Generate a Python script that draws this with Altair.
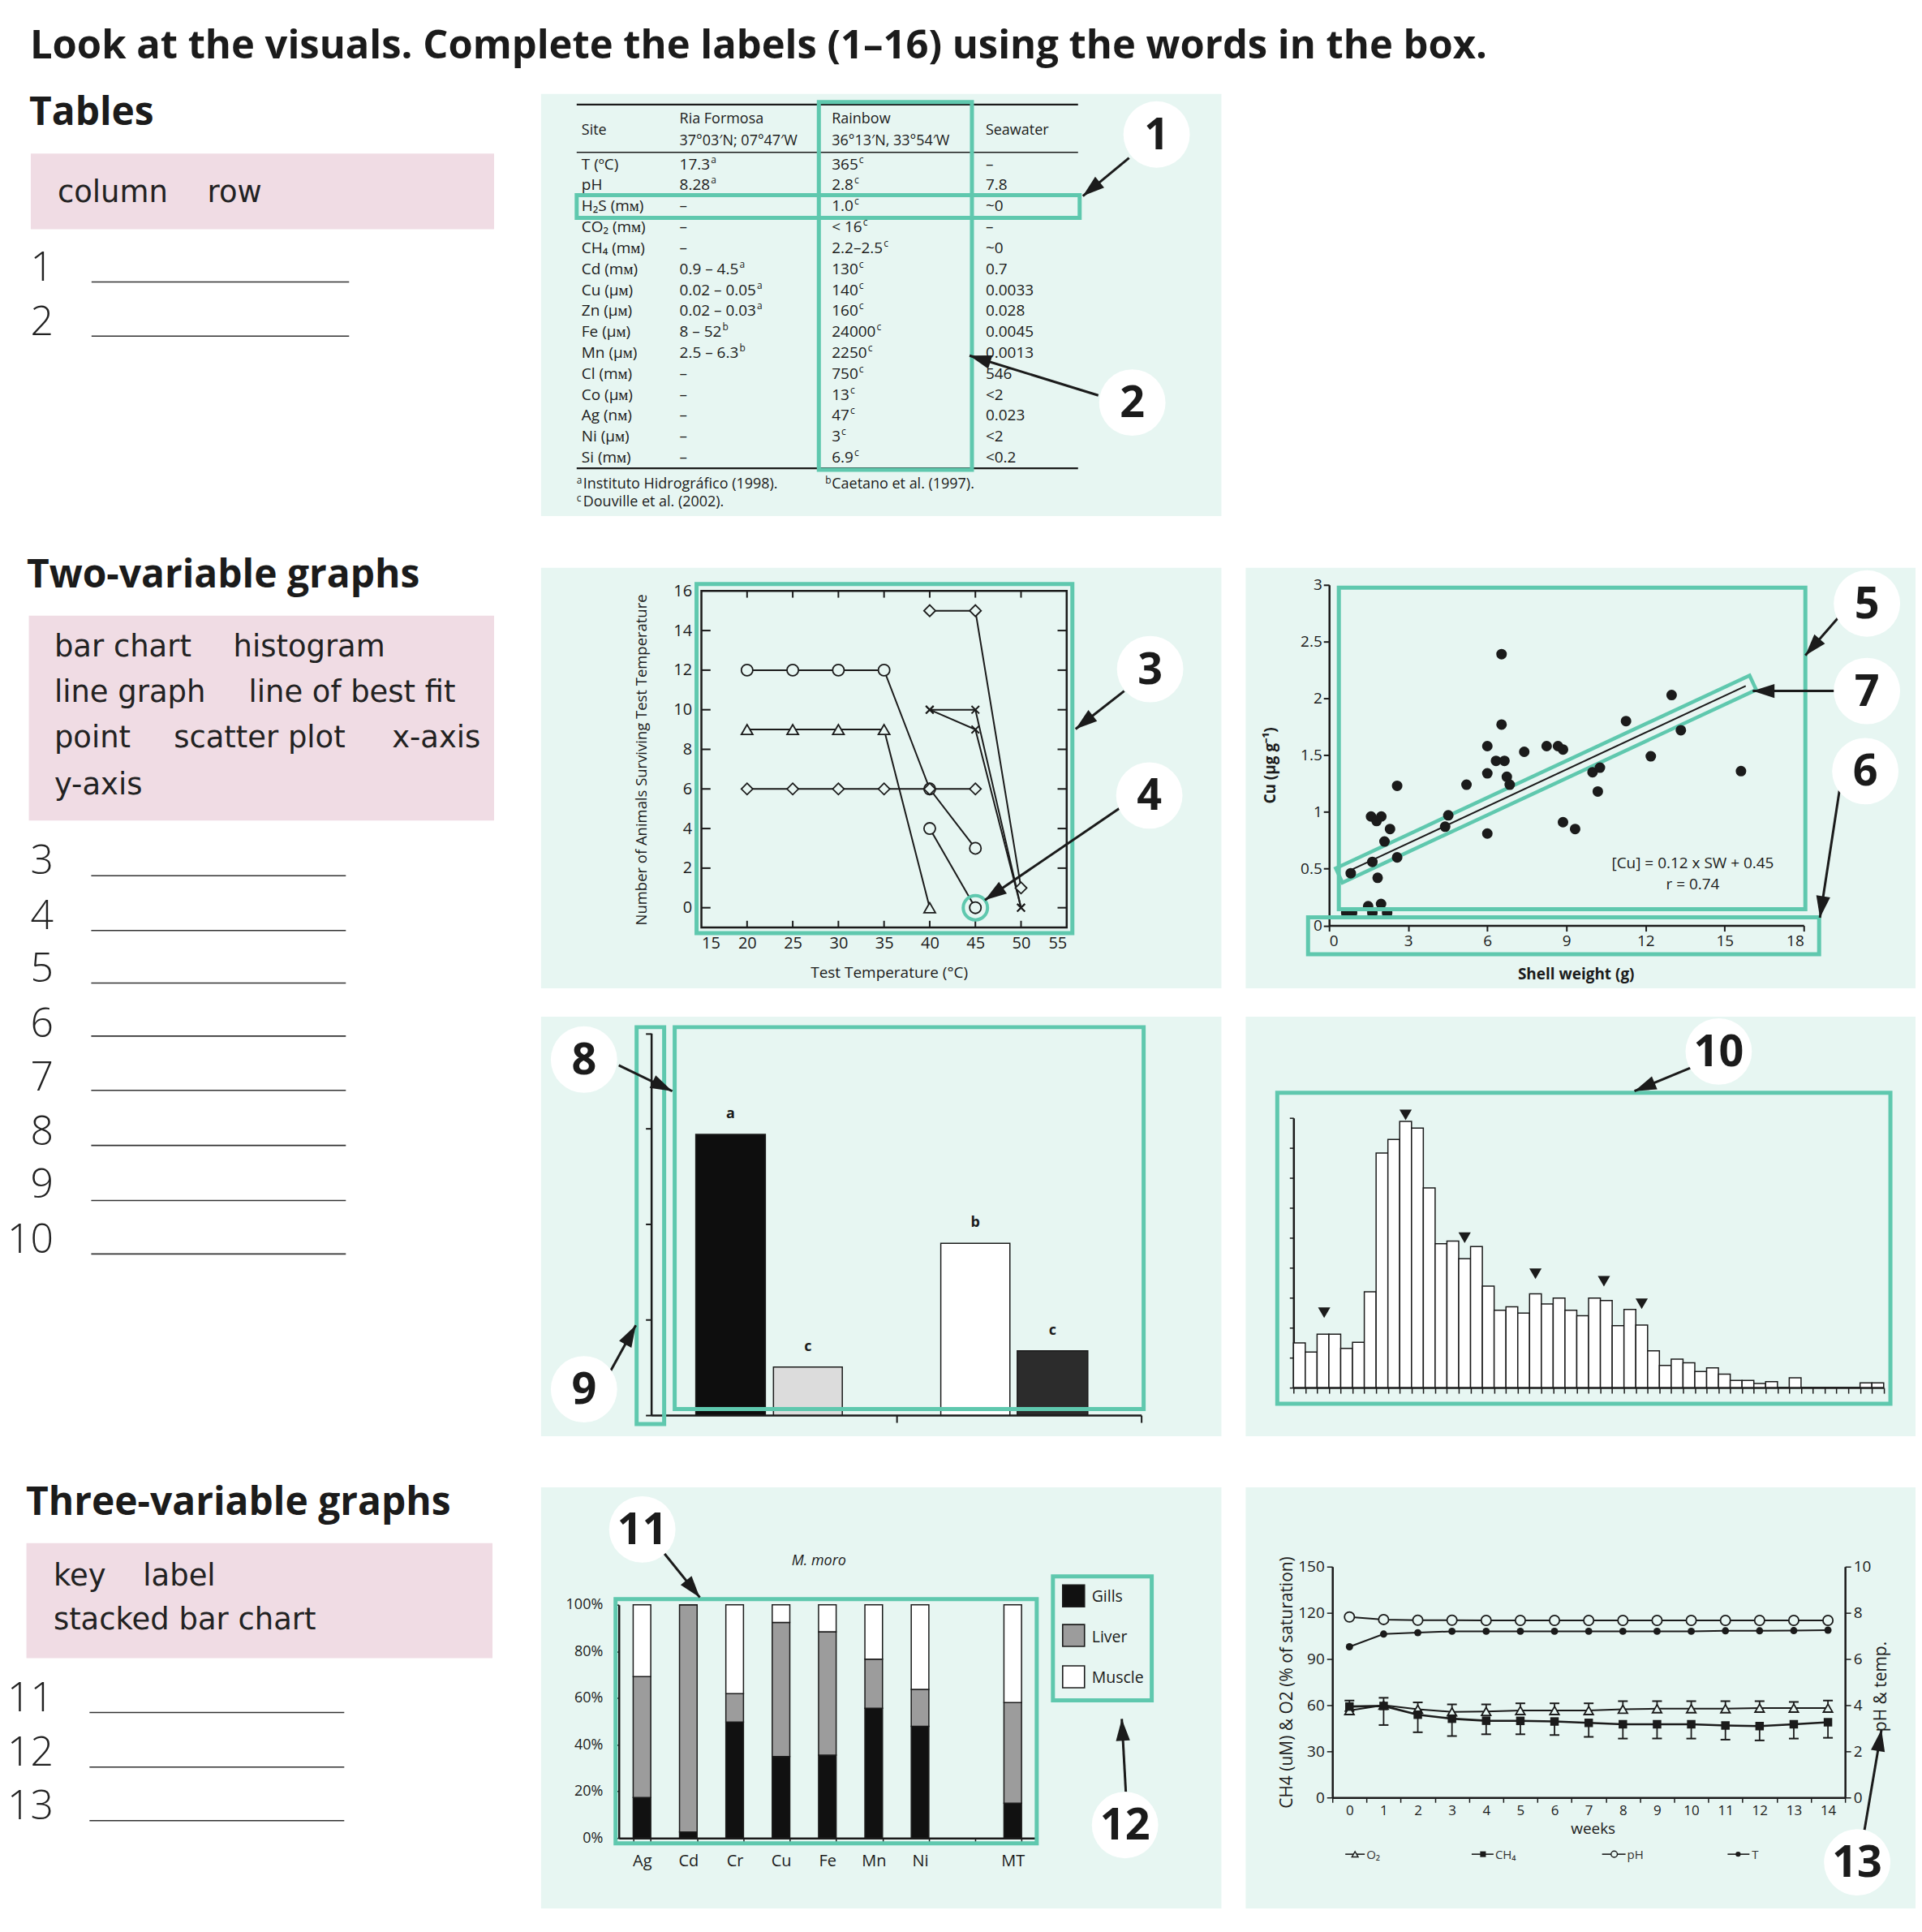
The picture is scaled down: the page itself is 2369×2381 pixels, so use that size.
import math
import altair as alt
import pandas as pd

# ============================ DATA ============================
TITLE = "Look at the visuals. Complete the labels (1–16) using the words in the box."
SECTION_HEADINGS = ["Tables", "Two-variable graphs", "Three-variable graphs"]
BOX_TABLES = ["column", "row"]
BOX_TWO_VAR = ["bar chart", "histogram", "line graph", "line of best fit",
               "point", "scatter plot", "x-axis", "y-axis"]
BOX_THREE_VAR = ["key", "label", "stacked bar chart"]
ANSWER_NUMS = [str(n) for n in range(1, 14)]

# --- table ---
TABLE_HEADER = ["Site", "Ria Formosa", "37°03′N; 07°47′W", "Rainbow", "36°13′N, 33°54′W", "Seawater"]
TABLE_SITE = ["T (ºC)", "pH", "H₂S (mᴍ)", "CO₂ (mᴍ)", "CH₄ (mᴍ)", "Cd (mᴍ)", "Cu (µᴍ)", "Zn (µᴍ)",
              "Fe (µᴍ)", "Mn (µᴍ)", "Cl (mᴍ)", "Co (µᴍ)", "Ag (nᴍ)", "Ni (µᴍ)", "Si (mᴍ)"]
TABLE_RIA = ["17.3", "8.28", "–", "–", "–", "0.9 – 4.5", "0.02 – 0.05", "0.02 – 0.03",
             "8 – 52", "2.5 – 6.3", "–", "–", "–", "–", "–"]
TABLE_RIA_REF = ["a", "a", "", "", "", "a", "a", "a", "b", "b", "", "", "", "", ""]
TABLE_RAINBOW = ["365", "2.8", "1.0", "< 16", "2.2–2.5", "130", "140", "160",
                 "24000", "2250", "750", "13", "47", "3", "6.9"]
TABLE_RAINBOW_REF = ["c"] * 15
TABLE_SEAWATER = ["–", "7.8", "~0", "–", "~0", "0.7", "0.0033", "0.028", "0.0045", "0.0013",
                  "546", "<2", "0.023", "<2", "<0.2"]
TABLE_NOTE_REFS = ["a", "b", "c"]
TABLE_NOTES = ["Instituto Hidrográfico (1998).", "Caetano et al. (1997).", "Douville et al. (2002)."]

# --- line graph ---
LG_SERIES = ["s1", "s2", "s3", "s4", "s5", "s6", "s7"]
LG_MARKER = ["circle", "circle", "triangle-up", "diamond", "diamond", "x", "x"]
LG_TEMP = [[20, 25, 30, 35, 40, 45], [40, 45], [20, 25, 30, 35, 40], [20, 25, 30, 35, 40, 45],
           [40, 45, 50], [40, 45, 50], [40, 45, 50]]
LG_COUNT = [[12, 12, 12, 12, 6, 3], [4, 0], [9, 9, 9, 9, 0], [6, 6, 6, 6, 6, 6],
            [15, 15, 1], [10, 10, 0], [10, 9, 0]]
LG_XTICKS = [15, 20, 25, 30, 35, 40, 45, 50, 55]
LG_YTICKS = [0, 2, 4, 6, 8, 10, 12, 14, 16]
LG_XTITLE = "Test Temperature (°C)"
LG_YTITLE = "Number of Animals Surviving Test Temperature"

# --- scatter plot ---
SC_SHELL = [6.54, 6.54, 6.0, 6.0, 6.0, 6.33, 6.65, 6.74, 6.85, 7.40, 5.21, 8.25, 8.68, 8.87, 8.87,
            9.33, 9.99, 10.27, 10.19, 11.26, 12.2, 12.99, 13.34, 15.62, 4.52, 4.40, 2.58, 2.58,
            1.59, 1.98, 1.80, 2.31, 2.10, 1.64, 1.84, 0.82, 1.48, 1.97, 1.64, 2.20, 0.65, 0.87]
SC_CU = [2.39, 1.77, 1.58, 1.34, 0.81, 1.45, 1.45, 1.31, 1.24, 1.53, 1.24, 1.58, 1.58, 1.55, 0.91,
         0.85, 1.35, 1.39, 1.18, 1.80, 1.49, 2.03, 1.72, 1.36, 0.97, 0.87, 1.23, 0.60,
         0.96, 0.96, 0.92, 0.85, 0.74, 0.56, 0.42, 0.46, 0.17, 0.19, 0.11, 0.11, 0.11, 0.11]
SC_FIT_X = [0.65, 15.8]
SC_FIT_Y = [0.47, 2.11]
SC_XTICKS = [0, 3, 6, 9, 12, 15, 18]
SC_YTICKS = [0, 0.5, 1, 1.5, 2, 2.5, 3]
SC_XTITLE = "Shell weight (g)"
SC_YTITLE = "Cu (µg g⁻¹)"
SC_NOTE = ["[Cu] = 0.12 x SW + 0.45", "r = 0.74"]

# --- bar chart ---
BC_X0 = [0.182, 0.499, 1.182, 1.494]
BC_X1 = [0.466, 0.780, 1.464, 1.782]
BC_VALUE = [2.94, 0.505, 1.80, 0.674]
BC_FILL = ["#0e0e0e", "#dcdcdc", "#ffffff", "#2c2c2c"]
BC_LETTER = ["a", "c", "b", "c"]

# --- histogram ---
HIST_COUNTS = [1.49, 1.19, 1.78, 1.78, 1.31, 1.51, 3.20, 7.83, 8.28, 8.88, 8.66, 6.66, 4.80, 4.89,
               4.30, 4.71, 3.39, 2.58, 2.70, 2.49, 3.13, 2.79, 2.99, 2.58, 2.40, 2.99, 2.91, 2.07,
               2.61, 2.09, 1.23, 0.74, 0.95, 0.83, 0.54, 0.66, 0.45, 0.24, 0.24, 0.14, 0.20, 0.0,
               0.33, 0.0, 0.0, 0.0, 0.0, 0.0, 0.16, 0.16]
HIST_PEAK_X = [2.6, 9.5, 14.5, 20.5, 26.3, 29.5]
HIST_PEAK_Y = [2.5, 9.1, 5.0, 3.8, 3.55, 2.8]

# --- stacked bar chart ---
ST_ELEMENTS = ["Ag", "Cd", "Cr", "Cu", "Fe", "Mn", "Ni", " ", "MT"]
ST_TISSUES = ["Gills", "Liver", "Muscle"]
ST_GILLS = [17.4, 2.6, 49.7, 34.9, 35.5, 55.6, 47.9, None, 14.9]
ST_LIVER = [51.8, 97.4, 12.2, 57.5, 52.9, 21.1, 15.8, None, 43.2]
ST_MUSCLE = [30.8, 0.0, 38.1, 7.6, 11.6, 23.3, 36.3, None, 41.9]
ST_COLORS = ["#111111", "#9c9c9c", "#ffffff"]
ST_YTICKS = [0, 20, 40, 60, 80, 100]
ST_TITLE = "M. moro"

# --- time series ---
TS_WEEKS = list(range(15))
TS_O2 = [56.5, 60.0, 57.4, 55.6, 55.9, 56.5, 56.5, 56.5, 57.4, 57.7, 57.7, 57.7, 58.1, 58.1, 58.1]
TS_O2_ERR = [6.5, 4.8, 4.4, 4.9, 4.6, 4.7, 4.7, 4.7, 5.2, 4.9, 4.9, 4.9, 4.5, 4.0, 4.9]
TS_CH4 = [59.1, 59.5, 53.8, 51.2, 49.9, 49.8, 49.4, 48.5, 47.6, 47.6, 47.6, 46.8, 46.4, 47.6, 48.9]
TS_CH4_ERR = [3.0, 12.4, 11.4, 11.2, 8.8, 8.7, 8.8, 9.1, 9.3, 9.3, 9.3, 9.2, 9.3, 9.3, 10.1]
TS_PH = [7.82, 7.71, 7.68, 7.68, 7.67, 7.67, 7.67, 7.67, 7.67, 7.67, 7.67, 7.67, 7.67, 7.67, 7.67]
TS_T = [6.53, 7.08, 7.14, 7.20, 7.20, 7.20, 7.20, 7.20, 7.20, 7.20, 7.20, 7.22, 7.22, 7.23, 7.25]
TS_LEFT_TICKS = [0, 30, 60, 90, 120, 150]
TS_RIGHT_TICKS = [0, 2, 4, 6, 8, 10]
TS_LEFT_TITLE = "CH4 (uM) & O2 (% of saturation)"
TS_RIGHT_TITLE = "pH & temp."
TS_XTITLE = "weeks"
TS_LEGEND = ["O₂", "CH₄", "pH", "T"]

# ============================ STYLE ============================
FONT = "Open Sans"
BOXFONT = "DejaVu Sans"
MINT = "#e7f6f2"
PINK = "#f0dce4"
TEAL = "#5fc8ae"
INK = "#1b1b1b"
HEAD_PATH = "M0,0L0.55,1.7L-0.55,1.7Z"
X_PATH = "M-1,-1L1,1M-1,1L1,-1"
TABLE_FS = 19
SUP_FS = 12
# approximate Open Sans advance widths (em) for the characters used in the numeric cells
CHAR_EM = {".": 0.266, " ": 0.26, "–": 0.5, "<": 0.572, "~": 0.572}


# ============================ HELPERS ============================
def text_width(s, fs):
    return sum(CHAR_EM.get(ch, 0.572) for ch in s) * fs


def PX(field):
    return alt.X(field + ":Q", scale=None, axis=None)


def PY(field):
    return alt.Y(field + ":Q", scale=None, axis=None)


def texts(items, ox, oy, **kw):
    df = pd.DataFrame({"x": [p[0] - ox for p in items], "y": [p[1] - oy for p in items],
                       "t": [p[2] for p in items]})
    style = dict(font=FONT, color=INK, align="left", baseline="middle", fontSize=18)
    style.update(kw)
    return alt.Chart(df).mark_text(**style).encode(x=PX("x"), y=PY("y"), text="t:N")


def segs(items, ox, oy, color=INK, width=2.0):
    df = pd.DataFrame({"x": [s[0] - ox for s in items], "y": [s[1] - oy for s in items],
                       "x2": [s[2] - ox for s in items], "y2": [s[3] - oy for s in items]})
    return alt.Chart(df).mark_rule(color=color, strokeWidth=width).encode(
        x=PX("x"), x2="x2", y=PY("y"), y2="y2")


def boxes(items, ox, oy, **kw):
    df = pd.DataFrame({"x": [b[0] - ox for b in items], "x2": [b[1] - ox for b in items],
                       "y": [b[2] - oy for b in items], "y2": [b[3] - oy for b in items]})
    return alt.Chart(df).mark_rect(**kw).encode(x=PX("x"), x2="x2", y=PY("y"), y2="y2")


def frames(items, ox, oy):
    return boxes(items, ox, oy, fill="transparent", stroke=TEAL, strokeWidth=5)


def arrows(items, ox, oy):
    rows = []
    for (x1, y1, x2, y2) in items:
        ang = math.degrees(math.atan2(x2 - x1, -(y2 - y1))) % 360
        rows.append({"x": x1 - ox, "y": y1 - oy, "x2": x2 - ox, "y2": y2 - oy, "a": ang})
    df = pd.DataFrame(rows)
    shaft = alt.Chart(df).mark_rule(color=INK, strokeWidth=3).encode(
        x=PX("x"), x2="x2", y=PY("y"), y2="y2")
    head = alt.Chart(df).mark_point(shape=HEAD_PATH, filled=True, color=INK, size=1000,
                                    opacity=1, strokeWidth=0).encode(
        x=PX("x2"), y=PY("y2"), angle=alt.Angle("a:Q", scale=None))
    return [shaft, head]


def callouts(items, ox, oy):
    df = pd.DataFrame({"x": [p[0] - ox for p in items], "y": [p[1] - oy for p in items],
                       "t": [p[2] for p in items]})
    circ = alt.Chart(df).mark_circle(size=6724, color="white", opacity=1).encode(x=PX("x"), y=PY("y"))
    num = alt.Chart(df).mark_text(font=FONT, fontSize=54, fontWeight="bold", color=INK,
                                  align="center", baseline="middle", dy=2).encode(
        x=PX("x"), y=PY("y"), text="t:N")
    return [circ, num]


def panel(layers, W, H):
    return alt.layer(*layers).properties(
        width=W, height=H, view=alt.ViewBackground(fill=MINT, strokeWidth=0)
    ).resolve_scale(x="independent", y="independent")


def spacer(W, H):
    return alt.Chart(pd.DataFrame({"v": [0]})).mark_point(opacity=0, size=1).encode(
        x=alt.value(5), y=alt.value(5)).properties(width=W, height=H)


def lin(domain, rng):
    return alt.Scale(domain=domain, range=rng, nice=False, zero=False)


# ============================ TITLE ROW ============================
title_view = alt.layer(
    texts([(33, 70.5, TITLE)], 8, 8, fontSize=49, fontWeight="bold", baseline="alphabetic")
).properties(width=1950, height=106)

# ============================ LEFT COLUMN ============================
LX, LY = 8, 114
left_layers = [
    boxes([(34, 606, 187.5, 281), (31.6, 606, 758, 1011), (28.6, 604, 1903, 2045)], LX, LY, fill=PINK),
    texts([(32, 152, SECTION_HEADINGS[0]), (29, 723, SECTION_HEADINGS[1]), (28, 1868, SECTION_HEADINGS[2])],
          LX, LY, fontSize=48, fontWeight="bold", baseline="alphabetic"),
    texts([(67, 236.6, BOX_TABLES[0]), (252, 236.6, BOX_TABLES[1]),
           (63, 797, BOX_TWO_VAR[0]), (284, 797, BOX_TWO_VAR[1]),
           (63, 853.6, BOX_TWO_VAR[2]), (303, 853.6, BOX_TWO_VAR[3]),
           (63, 910, BOX_TWO_VAR[4]), (210.5, 910, BOX_TWO_VAR[5]), (480, 910, BOX_TWO_VAR[6]),
           (63, 967.5, BOX_TWO_VAR[7]),
           (62, 1944, BOX_THREE_VAR[0]), (172.6, 1944, BOX_THREE_VAR[1]),
           (62, 1998, BOX_THREE_VAR[2])],
          LX, LY, font=BOXFONT, fontSize=37, color="#222222"),
]
num_y = [330, 397, 1062, 1130, 1195, 1263, 1329, 1396, 1461, 1530, 2096, 2163, 2229]
left_layers.append(texts([(62, y, n) for y, n in zip(num_y, ANSWER_NUMS)], LX, LY,
                         fontSize=50, fontWeight=300, align="right", color="#222222"))
line_y = [346, 413, 1079, 1146.6, 1211.6, 1277, 1344, 1412, 1480, 1546, 2112, 2179.5, 2245.6]
line_x = [(109, 427)] * 2 + [(108.6, 423)] * 8 + [(106.5, 421)] * 3
left_layers.append(segs([(a, y, b, y) for (a, b), y in zip(line_x, line_y)], LX, LY,
                        color="#333333", width=1.6))
left_col = alt.layer(*left_layers).properties(width=626, height=2259)

# ============================ TABLE PANEL ============================
OX, OY = 664, 114
COLX = {"site": 714, "ria": 835, "rain": 1023, "sea": 1213}
tdf = pd.DataFrame({"i": list(range(len(TABLE_SITE))), "site": TABLE_SITE, "ria": TABLE_RIA,
                    "rain": TABLE_RAINBOW, "sea": TABLE_SEAWATER,
                    "ria_ref": TABLE_RIA_REF, "rain_ref": TABLE_RAINBOW_REF})
tdf["ria_sx"] = [COLX["ria"] - OX + text_width(s, TABLE_FS) + 1 for s in TABLE_RIA]
tdf["rain_sx"] = [COLX["rain"] - OX + text_width(s, TABLE_FS) + 1 for s in TABLE_RAINBOW]
row_scale = lin([0, len(TABLE_SITE) - 1], [201 - OY, 563 - OY])
table_layers = [
    segs([(708, 127, 1327, 127), (708, 576, 1327, 576)], OX, OY, width=2.2),
    segs([(708, 186, 1327, 186)], OX, OY, width=1.6),
    texts([(714, 159, TABLE_HEADER[0]), (835, 145.5, TABLE_HEADER[1]), (835, 172.5, TABLE_HEADER[2]),
           (1023, 145.5, TABLE_HEADER[3]), (1023, 172.5, TABLE_HEADER[4]), (1213, 159, TABLE_HEADER[5])],
          OX, OY, fontSize=18),
]
for col in ["site", "ria", "rain", "sea"]:
    table_layers.append(alt.Chart(tdf).mark_text(font=FONT, fontSize=TABLE_FS, color=INK, align="left",
                                                 baseline="middle").encode(
        x=alt.value(COLX[col] - OX), y=alt.Y("i:Q", scale=row_scale, axis=None), text=col + ":N"))
for col in ["ria", "rain"]:
    table_layers.append(alt.Chart(tdf).mark_text(font=FONT, fontSize=SUP_FS, color=INK, align="left",
                                                 baseline="middle", dy=-6).encode(
        x=alt.X(col + "_sx:Q", scale=None, axis=None), y=alt.Y("i:Q", scale=row_scale, axis=None),
        text=col + "_ref:N"))
table_layers += [
    texts([(708, 591, TABLE_NOTE_REFS[0]), (1015, 591, TABLE_NOTE_REFS[1]), (708, 613, TABLE_NOTE_REFS[2])],
          OX, OY, fontSize=SUP_FS),
    texts([(716, 596, TABLE_NOTES[0]), (1023, 596, TABLE_NOTES[1]), (716, 618, TABLE_NOTES[2])],
          OX, OY, fontSize=18),
    frames([(708, 1329, 239, 267), (1007, 1196, 124, 578)], OX, OY),
]
table_layers += arrows([(1390, 193, 1333, 240), (1352, 486, 1193, 437)], OX, OY)
table_layers += callouts([(1424, 164, "1"), (1394, 495, "2")], OX, OY)
table_panel = panel(table_layers, 840, 521)

# ============================ LINE GRAPH PANEL ============================
OX, OY = 664, 699
lg_xs = lin([15, 55], [862 - OX, 1313 - OX])
lg_ys = lin([-1, 16], [1143 - OY, 727.5 - OY])
lg_rows = []
for sid, mk, xs_, ys_ in zip(LG_SERIES, LG_MARKER, LG_TEMP, LG_COUNT):
    for a, b in zip(xs_, ys_):
        lg_rows.append({"s": sid, "m": mk, "t": a, "n": b})
lg_df = pd.DataFrame(lg_rows)
frame_df = pd.DataFrame({"a": [15], "b": [55], "c": [-1], "d": [16]})
tick_rows = []
for v in LG_XTICKS[1:-1]:
    tick_rows.append({"x": v, "x2": v, "y": -1, "y2": -1 + 0.34})
    tick_rows.append({"x": v, "x2": v, "y": 16, "y2": 16 - 0.34})
for v in LG_YTICKS[:-1]:
    tick_rows.append({"x": 15, "x2": 15 + 1.0, "y": v, "y2": v})
    tick_rows.append({"x": 55, "x2": 55 - 1.0, "y": v, "y2": v})
tick_df = pd.DataFrame(tick_rows)

lg_layers = [
    alt.Chart(frame_df).mark_rect(fill="transparent", stroke=INK, strokeWidth=2.5).encode(
        x=alt.X("a:Q", scale=lg_xs, axis=None), x2="b",
        y=alt.Y("c:Q", scale=lg_ys, axis=None), y2="d"),
    alt.Chart(tick_df).mark_rule(color=INK, strokeWidth=2).encode(
        x=alt.X("x:Q", scale=lg_xs, axis=None), x2="x2",
        y=alt.Y("y:Q", scale=lg_ys, axis=None), y2="y2"),
    alt.Chart(lg_df).mark_line(color=INK, strokeWidth=2).encode(
        x=alt.X("t:Q", scale=lg_xs, axis=alt.Axis(values=LG_XTICKS, domain=False, ticks=False, orient="bottom",
                                                  labelPadding=9, labelFontSize=20, offset=-75,
                                                  title=None, grid=False)),
        y=alt.Y("n:Q", scale=lg_ys, axis=alt.Axis(values=LG_YTICKS, domain=False, ticks=False, orient="left",
                                                  labelPadding=12, labelFontSize=20, offset=-198,
                                                  title=None, grid=False)),
        detail="s:N"),
    alt.Chart(lg_df[lg_df["m"] != "x"]).mark_point(filled=True, fill=MINT, stroke=INK, strokeWidth=1.8,
                                                   opacity=1, size=200).encode(
        x=alt.X("t:Q", scale=lg_xs, axis=None), y=alt.Y("n:Q", scale=lg_ys, axis=None),
        shape=alt.Shape("m:N", scale=alt.Scale(domain=["circle", "triangle-up", "diamond"],
                                               range=["circle", "triangle-up", "diamond"]), legend=None)),
    alt.Chart(lg_df[lg_df["m"] == "x"]).mark_point(shape=X_PATH, filled=False, color=INK, strokeWidth=2,
                                                   opacity=1, size=90).encode(
        x=alt.X("t:Q", scale=lg_xs, axis=None), y=alt.Y("n:Q", scale=lg_ys, axis=None)),
    alt.Chart(pd.DataFrame({"t": [45], "n": [0]})).mark_point(shape="circle", filled=False, color=TEAL,
                                                             strokeWidth=4, size=900, opacity=1).encode(
        x=alt.X("t:Q", scale=lg_xs, axis=None), y=alt.Y("n:Q", scale=lg_ys, axis=None)),
    texts([(788, 936, LG_YTITLE)], OX, OY, fontSize=18.5, angle=270, align="center"),
    texts([(1094, 1199, LG_XTITLE)], OX, OY, fontSize=19, align="center"),
    frames([(856, 1320, 719, 1150)], OX, OY),
]
lg_layers += arrows([(1384, 851, 1324, 898), (1378, 996, 1212, 1109)], OX, OY)
lg_layers += callouts([(1416, 824, "3"), (1415, 980, "4")], OX, OY)
line_panel = panel(lg_layers, 840, 519)

# ============================ SCATTER PANEL ============================
OX, OY = 1534, 699
sc_xs = lin([0, 18], [1637 - OX, 2223 - OX])
sc_ys = lin([0, 3], [1140.5 - OY, 720 - OY])
sc_df = pd.DataFrame({"sw": SC_SHELL, "cu": SC_CU})
fit_df = pd.DataFrame({"sw": SC_FIT_X, "cu": SC_FIT_Y})
sc_layers = [
    alt.Chart(fit_df).mark_line(color=TEAL, strokeWidth=24, strokeCap="square").encode(
        x=alt.X("sw:Q", scale=sc_xs, axis=alt.Axis(values=SC_XTICKS, tickSize=7, tickWidth=2, domainWidth=2.5,
                                                   labelPadding=3, labelFontSize=19, offset=-77.5,
                                                   orient="bottom", title=None, grid=False)),
        y=alt.Y("cu:Q", scale=sc_ys, axis=alt.Axis(values=SC_YTICKS, format="~g", tickSize=7, tickWidth=2,
                                                   domainWidth=2.5, labelPadding=2, labelFontSize=19,
                                                   offset=-103, orient="left", title=None, grid=False))),
    alt.Chart(fit_df).mark_line(color=MINT, strokeWidth=15, strokeCap="square").encode(
        x=alt.X("sw:Q", scale=sc_xs, axis=None), y=alt.Y("cu:Q", scale=sc_ys, axis=None)),
    alt.Chart(fit_df).mark_line(color=INK, strokeWidth=2).encode(
        x=alt.X("sw:Q", scale=sc_xs, axis=None), y=alt.Y("cu:Q", scale=sc_ys, axis=None)),
    alt.Chart(sc_df).mark_circle(color=INK, opacity=1, size=170).encode(
        x=alt.X("sw:Q", scale=sc_xs, axis=None), y=alt.Y("cu:Q", scale=sc_ys, axis=None)),
    texts([(2086, 1063.5, SC_NOTE[0]), (2086, 1090, SC_NOTE[1])], OX, OY, fontSize=19, align="center"),
    texts([(1565, 943, SC_YTITLE)], OX, OY, fontSize=19, fontWeight="bold", angle=270, align="center"),
    texts([(1942, 1201, SC_XTITLE)], OX, OY, fontSize=19, fontWeight="bold", align="center"),
    frames([(1649, 2225, 723.5, 1120.5), (1611, 2242, 1130.5, 1176)], OX, OY),
]
sc_layers += arrows([(2266, 760, 2225, 807), (2262, 851, 2160, 851), (2268, 968, 2243, 1131)], OX, OY)
sc_layers += callouts([(2301, 743, "5"), (2301, 851, "7"), (2299, 950, "6")], OX, OY)
scatter_panel = panel(sc_layers, 827, 519)

# ============================ BAR CHART PANEL ============================
OX, OY = 664, 1253
bc_xs = lin([0, 2], [800 - OX, 1405 - OX])
bc_ys = lin([0, 4], [1745 - OY, 1273.5 - OY])
bc_df = pd.DataFrame({"x0": BC_X0, "x1": BC_X1, "v": BC_VALUE, "c": BC_FILL, "lab": BC_LETTER,
                      "z": [0.0] * len(BC_VALUE)})
bc_df["xc"] = (bc_df["x0"] + bc_df["x1"]) / 2
bc_layers = [
    alt.Chart(bc_df).mark_rect(stroke=INK, strokeWidth=1.5).encode(
        x=alt.X("x0:Q", scale=bc_xs, axis=alt.Axis(values=[1, 2], labels=False, tickSize=9, tickWidth=2,
                                                   domainWidth=2.5, offset=-26, orient="bottom",
                                                   title=None, grid=False)),
        x2="x1",
        y=alt.Y("v:Q", scale=bc_ys, axis=alt.Axis(values=[0, 1, 2, 3, 4], labels=False, tickSize=7,
                                                  tickWidth=2, domainWidth=2.5, offset=-136, orient="left",
                                                  title=None, grid=False)),
        y2="z", fill=alt.Fill("c:N", scale=None)),
    alt.Chart(bc_df).mark_text(font=FONT, fontSize=18, fontWeight="bold", color=INK, dy=-16,
                               baseline="bottom").encode(
        x=alt.X("xc:Q", scale=bc_xs, axis=None), y=alt.Y("v:Q", scale=bc_ys, axis=None), text="lab:N"),
    frames([(829, 1408, 1266, 1737.5), (782, 816, 1266, 1756)], OX, OY),
]
bc_layers += arrows([(760, 1313, 826, 1345), (750, 1690, 781, 1634)], OX, OY)
bc_layers += callouts([(717, 1306, "8"), (717, 1713, "9")], OX, OY)
bar_panel = panel(bc_layers, 840, 518)

# ============================ HISTOGRAM PANEL ============================
OX, OY = 1534, 1253
hs_xs = lin([0, len(HIST_COUNTS)], [1593 - OX, 2321.7 - OX])
hs_ys = lin([0, 9], [1711 - OY, 1378 - OY])
hs_df = pd.DataFrame({"b0": list(range(len(HIST_COUNTS))), "h": HIST_COUNTS})
hs_df["b1"] = hs_df["b0"] + 1
hs_df["z"] = 0.0
pk_df = pd.DataFrame({"x": HIST_PEAK_X, "y": HIST_PEAK_Y})
hs_layers = [
    alt.Chart(hs_df).mark_rect(fill="white", stroke=INK, strokeWidth=1.5).encode(
        x=alt.X("b0:Q", scale=hs_xs, axis=alt.Axis(values=list(range(len(HIST_COUNTS) + 1)), labels=False,
                                                   tickSize=7, tickWidth=1.5, domainWidth=2.5, offset=-60,
                                                   orient="bottom", title=None, grid=False)),
        x2="b1",
        y=alt.Y("h:Q", scale=hs_ys, axis=alt.Axis(values=list(range(10)), labels=False, tickSize=5,
                                                  tickWidth=1.5, domainWidth=2.5, offset=-59, orient="left",
                                                  title=None, grid=False)),
        y2="z"),
    alt.Chart(pk_df).mark_point(shape="triangle-down", filled=True, color=INK, size=230, opacity=1).encode(
        x=alt.X("x:Q", scale=hs_xs, axis=None), y=alt.Y("y:Q", scale=hs_ys, axis=None)),
    frames([(1573, 2330, 1347, 1731)], OX, OY),
]
hs_layers += arrows([(2086, 1315, 2014, 1345)], OX, OY)
hs_layers += callouts([(2118, 1296, "10")], OX, OY)
hist_panel = panel(hs_layers, 827, 518)

# ============================ STACKED BAR PANEL ============================
OX, OY = 664, 1834
st_rows = []
for k, el in enumerate(ST_ELEMENTS):
    for j, (tis, vals) in enumerate(zip(ST_TISSUES, [ST_GILLS, ST_LIVER, ST_MUSCLE])):
        if vals[k] is not None:
            st_rows.append({"el": el, "tis": tis, "v": vals[k], "o": j})
st_df = pd.DataFrame(st_rows)
st_xs = alt.Scale(domain=ST_ELEMENTS, range=[760 - OX, 1275 - OX], paddingInner=0.62, paddingOuter=0.31)
st_ys = lin([0, 100], [2267 - OY, 1979 - OY])
st_colors = alt.Scale(domain=ST_TISSUES, range=ST_COLORS)
key_df = pd.DataFrame({"x": [1321.5 - OX] * 3, "y": [1968 - OY, 2017 - OY, 2068 - OY], "tis": ST_TISSUES})
st_layers = [
    alt.Chart(st_df).mark_bar(stroke=INK, strokeWidth=1.5).encode(
        x=alt.X("el:N", scale=st_xs, sort=ST_ELEMENTS,
                axis=alt.Axis(tickBand="extent", tickSize=8, tickWidth=1.5, domainWidth=2.5, labelAngle=0,
                              labelPadding=10, labelFontSize=20, offset=-87, orient="bottom",
                              title=None, grid=False)),
        y=alt.Y("v:Q", scale=st_ys, stack="zero",
                axis=alt.Axis(values=ST_YTICKS, labelExpr="datum.value + '%'", tickSize=4, tickWidth=1.5,
                              domainWidth=2.5, labelPadding=16, labelFontSize=18, offset=-96, orient="left",
                              title=None, grid=False)),
        color=alt.Color("tis:N", scale=st_colors, legend=None),
        order=alt.Order("o:Q")),
    alt.Chart(key_df).mark_point(shape="square", filled=True, stroke=INK, strokeWidth=1.6, size=729,
                                 opacity=1).encode(
        x=PX("x"), y=PY("y"), fill=alt.Fill("tis:N", scale=st_colors, legend=None)),
    texts([(1344, 1969, ST_TISSUES[0]), (1344, 2019, ST_TISSUES[1]), (1344, 2070, ST_TISSUES[2])],
          OX, OY, fontSize=19.5),
    texts([(1007, 1925.5, ST_TITLE)], OX, OY, fontSize=18, fontStyle="italic", align="center"),
    frames([(756, 1276, 1972, 2273.5), (1296, 1418, 1944, 2097)], OX, OY),
]
st_layers += arrows([(814, 1913, 860, 1970), (1386, 2210, 1381, 2120)], OX, OY)
st_layers += callouts([(789, 1886, "11"), (1385, 2251, "12")], OX, OY)
stack_panel = panel(st_layers, 840, 520)

# ============================ TIME SERIES PANEL ============================
OX, OY = 1534, 1834
ts_df = pd.DataFrame({"w": TS_WEEKS, "o2": TS_O2, "ch4": TS_CH4, "ph": TS_PH, "tt": TS_T})
ts_df["o2hi"] = ts_df["o2"] + pd.Series(TS_O2_ERR)
ts_df["ch4lo"] = ts_df["ch4"] - pd.Series(TS_CH4_ERR)
ts_xs = alt.Scale(type="band", domain=TS_WEEKS, range=[1641 - OX, 2274 - OX], paddingInner=0, paddingOuter=0)
ts_yl = lin([0, 150], [2217 - OY, 1932 - OY])
ts_yr = lin([0, 10], [2217 - OY, 1932 - OY])
XW = alt.X("w:O", scale=ts_xs, axis=None)


def ts_y(field, scale):
    return alt.Y(field + ":Q", scale=scale, axis=None)


ts_layers = [
    alt.Chart(ts_df).mark_line(color=INK, strokeWidth=2).encode(
        x=alt.X("w:O", scale=ts_xs, axis=alt.Axis(tickBand="extent", tickSize=6, tickWidth=1.5, domainWidth=2.5,
                                                  labelAngle=0, labelPadding=2, labelFontSize=17, offset=-137,
                                                  orient="bottom", title=None, grid=False)),
        y=alt.Y("o2:Q", scale=ts_yl, axis=alt.Axis(values=TS_LEFT_TICKS, tickSize=7, tickWidth=1.5,
                                                   domainWidth=2.5, labelPadding=3, labelFontSize=19,
                                                   offset=-107, title=None, grid=False, orient="left"))),
    alt.Chart(ts_df).mark_rule(color=INK, strokeWidth=1.8).encode(x=XW, y=ts_y("o2", ts_yl), y2="o2hi"),
    alt.Chart(ts_df).mark_tick(color=INK, size=12, thickness=2, opacity=1).encode(x=XW, y=ts_y("o2hi", ts_yl)),
    alt.Chart(ts_df).mark_rule(color=INK, strokeWidth=1.8).encode(x=XW, y=ts_y("ch4lo", ts_yl), y2="ch4"),
    alt.Chart(ts_df).mark_tick(color=INK, size=12, thickness=2, opacity=1).encode(x=XW, y=ts_y("ch4lo", ts_yl)),
    alt.Chart(ts_df).mark_line(color=INK, strokeWidth=2.6).encode(x=XW, y=ts_y("ch4", ts_yl)),
    alt.Chart(ts_df).mark_line(color=INK, strokeWidth=2).encode(
        x=XW,
        y=alt.Y("ph:Q", scale=ts_yr, axis=alt.Axis(values=TS_RIGHT_TICKS, tickSize=7, tickWidth=1.5,
                                                   domainWidth=2.5, labelPadding=3, labelFontSize=19,
                                                   offset=-87, title=None, grid=False, orient="right"))),
    alt.Chart(ts_df).mark_line(color=INK, strokeWidth=2).encode(x=XW, y=ts_y("tt", ts_yr)),
    alt.Chart(ts_df).mark_point(shape="triangle-up", filled=True, fill=MINT, stroke=INK, strokeWidth=1.8,
                                size=130, opacity=1).encode(x=XW, y=ts_y("o2", ts_yl)),
    alt.Chart(ts_df).mark_point(shape="square", filled=True, color=INK, size=110, opacity=1).encode(
        x=XW, y=ts_y("ch4", ts_yl)),
    alt.Chart(ts_df).mark_point(shape="circle", filled=True, fill=MINT, stroke=INK, strokeWidth=1.8,
                                size=150, opacity=1).encode(x=XW, y=ts_y("ph", ts_yr)),
    alt.Chart(ts_df).mark_point(shape="circle", filled=True, color=INK, size=80, opacity=1).encode(
        x=XW, y=ts_y("tt", ts_yr)),
    texts([(1586, 2075, TS_LEFT_TITLE)], OX, OY, fontSize=21, angle=270, align="center"),
    texts([(2319, 2080, TS_RIGHT_TITLE)], OX, OY, fontSize=21, angle=270, align="center"),
    texts([(1963, 2256, TS_XTITLE)], OX, OY, fontSize=19, align="center"),
    segs([(1657, 2287, 1681, 2287), (1813, 2287, 1840, 2287), (1974, 2287, 2003, 2287),
          (2129, 2287, 2156, 2287)], OX, OY, width=1.6),
    alt.Chart(pd.DataFrame({"x": [1669 - OX], "y": [2287 - OY]})).mark_point(
        shape="triangle-up", filled=True, fill=MINT, stroke=INK, strokeWidth=1.4, size=60, opacity=1).encode(
        x=PX("x"), y=PY("y")),
    alt.Chart(pd.DataFrame({"x": [1827 - OX], "y": [2287 - OY]})).mark_point(
        shape="square", filled=True, color=INK, size=50, opacity=1).encode(x=PX("x"), y=PY("y")),
    alt.Chart(pd.DataFrame({"x": [1989 - OX], "y": [2287 - OY]})).mark_point(
        shape="circle", filled=True, fill=MINT, stroke=INK, strokeWidth=1.4, size=60, opacity=1).encode(
        x=PX("x"), y=PY("y")),
    alt.Chart(pd.DataFrame({"x": [2142 - OX], "y": [2287 - OY]})).mark_point(
        shape="circle", filled=True, color=INK, size=40, opacity=1).encode(x=PX("x"), y=PY("y")),
    texts([(1683, 2288, TS_LEGEND[0]), (1842, 2288, TS_LEGEND[1]), (2005, 2288, TS_LEGEND[2]),
           (2159, 2288, TS_LEGEND[3])], OX, OY, fontSize=15, color="#333333"),
]
ts_layers += arrows([(2298, 2257, 2319, 2133)], OX, OY)
ts_layers += callouts([(2289, 2297, "13")], OX, OY)
ts_panel = panel(ts_layers, 827, 520)

# ============================ PAGE LAYOUT ============================
mid_col = alt.vconcat(
    alt.vconcat(table_panel, line_panel, spacing=64),
    alt.vconcat(bar_panel, stack_panel, spacing=63),
    spacing=35)

right_col = alt.vconcat(
    spacer(827, 585),
    alt.vconcat(scatter_panel, alt.vconcat(hist_panel, ts_panel, spacing=63), spacing=35),
    spacing=0)

body = alt.hconcat(left_col, mid_col, right_col, spacing=30)

chart = alt.vconcat(title_view, body, spacing=0).properties(padding=0).configure(
    font=FONT).configure_view(strokeWidth=0).configure_axis(
    labelFont=FONT, labelColor=INK, tickColor=INK, domainColor=INK, grid=False)

chart.save("out.html", embed_options={"renderer": "svg", "actions": False})
